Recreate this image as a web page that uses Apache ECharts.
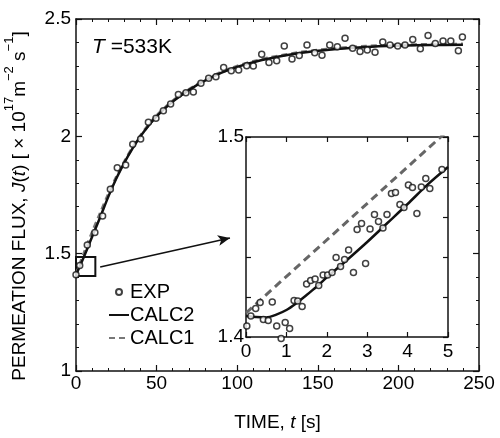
<!DOCTYPE html>
<html>
<head>
<meta charset="utf-8">
<script src="https://cdn.jsdelivr.net/npm/echarts@6/dist/echarts.min.js"></script>
<style>
html,body{margin:0;padding:0;background:#fff;}
#c{width:500px;height:438px;}
</style>
</head>
<body>
<div id="c"></div>
<script>
// ---- Main panel data ----
const mainTime = [0,5,10,15,20,25,30,35,40,45,50,60,70,80,90,100,110,120,140,160,180,200,220,240];
const calc2Main = [1.41,1.488,1.572,1.655,1.742,1.82,1.888,1.948,2.0,2.045,2.085,2.148,2.197,2.237,2.27,2.296,2.316,2.332,2.356,2.371,2.381,2.386,2.389,2.39];
const calc1Main = [1.412,1.503,1.59,1.672,1.752,1.826,1.892,1.951,2.003,2.048,2.088,2.151,2.2,2.24,2.273,2.299,2.319,2.335,2.359,2.374,2.384,2.389,2.392,2.393];
const expTime = [0,2.3,7.0,11.7,16.5,21.3,25.6,30.8,35.2,40.1,44.9,49.6,54.2,58.7,63.5,68.2,72.8,77.5,82.3,86.8,91.6,96.3,100.9,105.9,110,115.2,119.7,124.5,129.2,134,138.5,143.3,148.1,152.6,157.4,162.1,166.9,171.6,176.2,180.7,185.5,190.3,194.8,199.6,204.1,208.9,213.6,218.4,222.9,227.7,232.5,237.2,239.7];
const expFlux = [1.41,1.45,1.537,1.59,1.66,1.774,1.866,1.878,1.966,1.989,2.06,2.077,2.109,2.138,2.178,2.186,2.189,2.226,2.247,2.254,2.293,2.28,2.283,2.301,2.3,2.35,2.315,2.322,2.385,2.33,2.344,2.389,2.356,2.345,2.389,2.382,2.418,2.375,2.361,2.368,2.358,2.402,2.389,2.385,2.389,2.413,2.373,2.43,2.396,2.406,2.406,2.365,2.423];

// ---- Inset data (0-5 s) ----
const insetExpTime = [0.02,0.12,0.24,0.35,0.43,0.55,0.65,0.76,0.87,0.97,1.08,1.19,1.28,1.39,1.5,1.6,1.71,1.8,1.91,2.02,2.13,2.23,2.34,2.44,2.54,2.66,2.75,2.86,2.96,3.07,3.18,3.28,3.39,3.49,3.6,3.7,3.81,3.91,4.02,4.12,4.23,4.34,4.45,4.55,4.85];
const insetExpFlux = [1.4055,1.4105,1.4142,1.4172,1.4088,1.4083,1.4175,1.4055,1.3993,1.4073,1.4042,1.4183,1.418,1.4152,1.4265,1.4282,1.429,1.4257,1.431,1.431,1.4322,1.4398,1.4352,1.4388,1.4435,1.4323,1.4538,1.4567,1.4367,1.454,1.4613,1.4578,1.4545,1.4612,1.4718,1.4723,1.4663,1.4648,1.476,1.4747,1.4617,1.475,1.4792,1.4743,1.4838];
const insetCalc2Time = [0,0.25,0.5,0.75,1,1.25,1.5,1.75,2,2.5,3,3.5,4,4.5,5];
const insetCalc2 = [1.4105,1.41,1.4098,1.4112,1.4135,1.417,1.421,1.4252,1.4298,1.4385,1.4475,1.457,1.4665,1.4763,1.485];
const insetCalc1Time = [0,5];
const insetCalc1 = [1.412,1.5033];

// ---- Annotation (zoom box and arrow, in data units of main panel) ----
const boxTime = [0,12];
const boxFlux = [1.405,1.486];
const arrowFrom = [15,1.443];
const arrowTo = [95.5,1.567];

const pair = (xs, ys) => xs.map((x,i)=>[x, ys[i]]);

const FONT = 'Liberation Sans, Arial, sans-serif';
const INK = '#111';

function axisCommon(extra){
  return Object.assign({
    type:'value',
    axisLine:{show:true,onZero:false,lineStyle:{color:INK,width:1.5}},
    axisTick:{show:true,inside:true,length:6,lineStyle:{color:INK,width:1.2}},
    splitLine:{show:false},
    axisLabel:{show:true,color:'#000',fontFamily:FONT,fontSize:19},
  }, extra);
}

const chart = echarts.init(document.getElementById('c'), null, {renderer:'canvas'});
const option = {
  animation:false,
  backgroundColor:'#fff',
  textStyle:{fontFamily:FONT},
  title:{
    text:'{i|T} =533K',
    left:87, top:32,
    textStyle:{fontFamily:FONT,fontSize:21,fontWeight:'normal',color:'#000',
      rich:{i:{fontFamily:FONT,fontSize:21,fontStyle:'italic',color:'#000'}}}
  },
  legend:{
    orient:'vertical',
    left:108, top:282, padding:0,
    itemWidth:20, itemHeight:6, itemGap:3,
    textStyle:{fontFamily:FONT,fontSize:20,color:'#000',lineHeight:20,padding:[0,0,0,-4]},
    data:[
      {name:'EXP'},
      {name:'CALC2', itemStyle:{opacity:0}},
      {name:'CALC1', itemStyle:{opacity:0}}
    ]
  },
  grid:[
    {left:76,top:19,width:403,height:352,containLabel:false,outerBoundsMode:'none'},
    {left:246,top:137,width:202,height:200,containLabel:false,outerBoundsMode:'none',show:true,backgroundColor:'#fff',borderWidth:0}
  ],
  xAxis:[
    axisCommon({gridIndex:0,position:'bottom',min:0,max:250,interval:50,
      minorTick:{show:true,splitNumber:5,length:3,lineStyle:{color:INK,width:1}},
      axisLabel:{show:true,color:'#000',fontFamily:FONT,fontSize:19,margin:3},
      name:'{n|TIME, }{i|t}{n| [s]}', nameLocation:'middle', nameGap:42,
      nameTextStyle:{fontFamily:FONT,fontSize:19,color:'#000',
        rich:{n:{fontFamily:FONT,fontSize:19,color:'#000'},i:{fontFamily:FONT,fontSize:19,fontStyle:'italic',color:'#000'}}}
    }),
    axisCommon({gridIndex:0,position:'top',min:0,max:250,interval:50,
      minorTick:{show:true,splitNumber:5,length:3,lineStyle:{color:INK,width:1}},
      axisLabel:{show:false}}),
    axisCommon({gridIndex:1,position:'bottom',min:0,max:5,interval:1,
      axisTick:{show:true,inside:true,length:5,lineStyle:{color:INK,width:1.2}},
      axisLabel:{show:true,color:'#000',fontFamily:FONT,fontSize:19,margin:5}}),
    axisCommon({gridIndex:1,position:'top',min:0,max:5,interval:1,
      axisTick:{show:true,inside:true,length:5,lineStyle:{color:INK,width:1.2}},
      axisLabel:{show:false}})
  ],
  yAxis:[
    axisCommon({gridIndex:0,position:'left',min:1,max:2.5,interval:0.5,
      minorTick:{show:true,splitNumber:5,length:3,lineStyle:{color:INK,width:1}},
      axisLabel:{show:true,color:'#000',fontFamily:FONT,fontSize:19,margin:5},
      name:'{n|PERMEATION FLUX, }{i|J}{n|(}{i|t}{n|) [ × 10}{s|17}{n|m}{s|−2}{n| s}{s|−1}{n|]}',
      nameLocation:'middle', nameGap:47, nameRotate:90,
      nameTextStyle:{fontFamily:FONT,fontSize:19,color:'#000',padding:[0,22,0,0],
        rich:{
          n:{fontFamily:FONT,fontSize:19,color:'#000',lineHeight:26,verticalAlign:'bottom'},
          i:{fontFamily:FONT,fontSize:19,fontStyle:'italic',color:'#000',lineHeight:26,verticalAlign:'bottom'},
          s:{fontFamily:FONT,fontSize:13,color:'#000',lineHeight:26,verticalAlign:'top'}
        }}
    }),
    axisCommon({gridIndex:0,position:'right',min:1,max:2.5,interval:0.5,
      minorTick:{show:true,splitNumber:5,length:3,lineStyle:{color:INK,width:1}},
      axisLabel:{show:false}}),
    axisCommon({gridIndex:1,position:'left',min:1.4,max:1.5,interval:0.02,
      axisTick:{show:true,inside:true,length:5,lineStyle:{color:INK,width:1.2}},
      axisLabel:{show:true,color:'#000',fontFamily:FONT,fontSize:19,margin:2,
        formatter:(v)=> (Math.abs(v-1.4)<1e-6 ? '1.4' : (Math.abs(v-1.5)<1e-6 ? '1.5' : ''))}}),
    axisCommon({gridIndex:1,position:'right',min:1.4,max:1.5,interval:0.02,
      axisTick:{show:true,inside:true,length:5,lineStyle:{color:INK,width:1.2}},
      axisLabel:{show:false}})
  ],
  series:[
    {name:'CALC1',type:'line',xAxisIndex:0,yAxisIndex:0,data:pair(mainTime,calc1Main),
      symbol:'none',showSymbol:false,smooth:0.3,lineStyle:{color:'#777',width:3,type:[6,4]},itemStyle:{color:'#777'},z:2},
    {name:'CALC2',type:'line',xAxisIndex:0,yAxisIndex:0,data:pair(mainTime,calc2Main),
      symbol:'none',showSymbol:false,smooth:0.3,lineStyle:{color:INK,width:2.5,type:'solid'},itemStyle:{color:INK},z:3,
      markArea:{silent:true,itemStyle:{color:'rgba(0,0,0,0)',borderColor:INK,borderWidth:2},label:{show:false},
        data:[[{coord:[boxTime[0],boxFlux[0]]},{coord:[boxTime[1],boxFlux[1]]}]]},
      markLine:{silent:true,symbol:['none','arrow'],symbolSize:[8,12],label:{show:false},
        lineStyle:{color:INK,width:1.5,type:'solid'},
        emphasis:{disabled:true},
        data:[[{coord:arrowFrom},{coord:arrowTo}]]}
    },
    {name:'EXP',type:'scatter',xAxisIndex:0,yAxisIndex:0,data:pair(expTime,expFlux),
      symbol:'circle',symbolSize:6,itemStyle:{color:'#fff',borderColor:INK,borderWidth:1.5},z:4,clip:false},
    {name:'CALC1',type:'line',xAxisIndex:2,yAxisIndex:2,data:pair(insetCalc1Time,insetCalc1),
      symbol:'none',showSymbol:false,lineStyle:{color:'#666',width:3,type:[8,5]},itemStyle:{color:'#666'},z:5,clip:true},
    {name:'CALC2',type:'line',xAxisIndex:2,yAxisIndex:2,data:pair(insetCalc2Time,insetCalc2),
      symbol:'none',showSymbol:false,smooth:0.3,lineStyle:{color:INK,width:2.5},itemStyle:{color:INK},z:5},
    {name:'EXP',type:'scatter',xAxisIndex:2,yAxisIndex:2,data:pair(insetExpTime,insetExpFlux),
      symbol:'circle',symbolSize:6,itemStyle:{color:'#fff',borderColor:INK,borderWidth:1.5},z:6,clip:false}
  ]
};
chart.setOption(option);
</script>
</body>
</html>
